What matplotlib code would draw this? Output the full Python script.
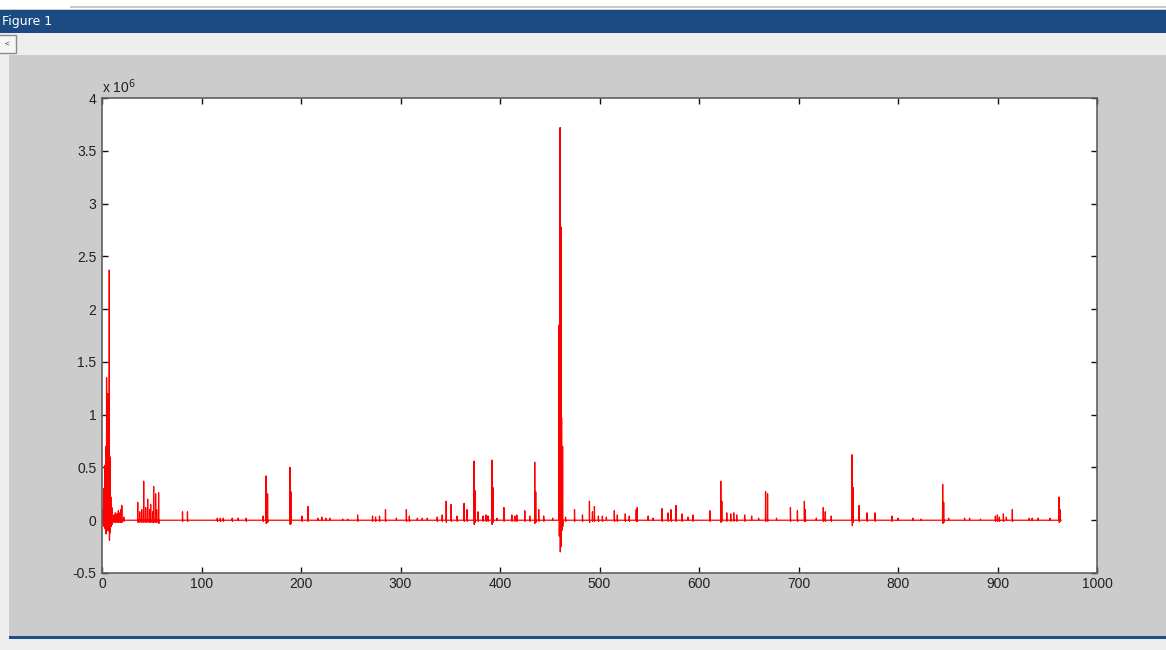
import numpy as np
import matplotlib
matplotlib.use("Agg")
import matplotlib.pyplot as plt
from matplotlib.patches import Rectangle
from matplotlib.ticker import FuncFormatter

# spikes: position, peak and trough (units of 1e6)
spike_x = [1, 2, 3, 4, 4.7, 5.5, 6.2, 6.8, 7.4, 8.2, 9, 10, 12, 13.5, 15, 16.5, 18, 19, 20, 22,
           36, 38, 40, 42, 44, 46, 48, 49, 51, 52, 54, 55, 57, 81, 86,
           116, 119, 122, 131, 137, 145, 162, 165, 166.5, 189, 190, 201, 207, 217, 221, 225, 229,
           242, 247, 257, 272, 275, 279, 285, 296, 306, 309, 317, 322, 327, 337, 342, 346, 351,
           357, 364, 367, 374, 375, 378, 383, 386, 388, 392, 393, 397, 404, 412, 415, 417, 425,
           430, 435, 436, 439, 444, 453, 459.5, 460.5, 461.3, 462, 463, 466, 475, 483, 490, 493,
           495, 499, 503, 507, 515, 518, 526, 530, 537, 538, 549, 554, 563, 569, 572, 577, 583,
           589, 594, 611, 622, 623, 628, 632, 635, 638, 646, 653, 660, 667, 669, 678, 692, 699,
           706, 707, 718, 725, 727, 733, 754, 755, 761, 769, 777, 794, 800, 815, 823, 845, 846,
           851, 867, 872, 883, 898, 900, 902, 906, 909, 915, 932, 935, 941, 953, 962, 963]
spike_peak = [0.10, 0.30, 0.52, 0.70, 1.35, 0.76, 1.20, 0.45, 2.37, 0.60, 0.22, 0.12, 0.05, 0.07,
              0.06, 0.09, 0.07, 0.10, 0.14, 0.03,
              0.17, 0.08, 0.10, 0.37, 0.12, 0.20, 0.10, 0.15, 0.08, 0.32, 0.25, 0.10, 0.26, 0.08, 0.08,
              0.02, 0.02, 0.02, 0.02, 0.02, 0.02, 0.04, 0.42, 0.25, 0.50, 0.27, 0.04, 0.13, 0.02, 0.03,
              0.02, 0.02,
              0.01, 0.01, 0.05, 0.04, 0.03, 0.04, 0.10, 0.02, 0.10, 0.04, 0.02, 0.02, 0.02, 0.03, 0.05,
              0.18, 0.15,
              0.04, 0.16, 0.10, 0.56, 0.28, 0.08, 0.04, 0.05, 0.04, 0.57, 0.31, 0.02, 0.12, 0.05, 0.04,
              0.05, 0.09,
              0.04, 0.55, 0.27, 0.10, 0.04, 0.02, 1.85, 3.72, 2.78, 0.97, 0.70, 0.03, 0.10, 0.05, 0.18,
              0.08,
              0.13, 0.04, 0.04, 0.03, 0.09, 0.05, 0.06, 0.04, 0.10, 0.12, 0.04, 0.02, 0.11, 0.07, 0.10,
              0.14, 0.06,
              0.03, 0.05, 0.09, 0.37, 0.18, 0.07, 0.06, 0.07, 0.05, 0.05, 0.04, 0.02, 0.27, 0.25, 0.02,
              0.12, 0.09,
              0.18, 0.10, 0.02, 0.12, 0.08, 0.04, 0.62, 0.31, 0.14, 0.07, 0.07, 0.04, 0.02, 0.02, 0.01,
              0.34, 0.17,
              0.02, 0.02, 0.02, 0.01, 0.04, 0.05, 0.03, 0.06, 0.03, 0.10, 0.02, 0.02, 0.02, 0.02, 0.22,
              0.10]
spike_trough = [-0.04, -0.06, -0.08, -0.13, -0.05, -0.10, -0.08, -0.10, -0.19, -0.12, -0.06, -0.04,
                -0.02, -0.02, -0.02, -0.02, -0.02, -0.02, -0.02, -0.01,
                -0.02, -0.02, -0.02, -0.02, -0.02, -0.02, -0.02, -0.02, -0.02, -0.02, -0.02, -0.02,
                -0.03, -0.01, -0.01,
                -0.01, -0.01, -0.01, -0.01, 0, -0.01, -0.01, -0.03, -0.02, -0.04, -0.03, -0.01, -0.01,
                0, 0, 0, 0,
                0, 0, -0.01, -0.01, -0.01, -0.01, -0.01, 0, -0.01, -0.01, 0, 0, 0, -0.01, -0.01,
                -0.02, -0.01,
                -0.01, -0.01, -0.01, -0.04, -0.02, -0.01, -0.01, -0.01, -0.01, -0.04, -0.02, 0, -0.01,
                -0.01, -0.01, -0.01, -0.01,
                -0.01, -0.03, -0.02, -0.01, -0.01, 0, -0.15, -0.30, -0.25, -0.10, -0.06, -0.01, -0.01,
                -0.01, -0.02, -0.01,
                -0.01, -0.01, -0.01, 0, -0.01, -0.01, -0.01, -0.01, -0.01, -0.01, 0, 0, -0.01, -0.01,
                -0.01, -0.01, -0.01,
                0, -0.01, -0.01, -0.02, -0.01, -0.01, -0.01, -0.01, -0.01, -0.01, 0, 0, -0.01, -0.01,
                0, -0.01, -0.01,
                -0.01, -0.01, 0, -0.01, -0.01, -0.01, -0.05, -0.02, -0.01, -0.01, -0.01, -0.01, 0, 0,
                0, -0.03, -0.02,
                0, 0, 0, 0, -0.01, -0.01, -0.01, -0.01, 0, -0.01, 0, 0, 0, 0, -0.02, -0.01]
series_start = 1
series_end = 964
scale = 1e6

xticks = [0, 100, 200, 300, 400, 500, 600, 700, 800, 900, 1000]
yticks = [-0.5, 0, 0.5, 1, 1.5, 2, 2.5, 3, 3.5, 4]

W, H = 1166, 650


def box(x0, y0, x1, y1):
    # pixel box (top-left origin) -> figure fraction
    return (x0 / W, 1 - y1 / H), (x1 - x0) / W, (y1 - y0) / H


# line through every spike: baseline, up to peak, down to trough, back to baseline
xs, ys = [series_start], [0.0]
for x, p, t in zip(spike_x, spike_peak, spike_trough):
    xs += [x - 0.25, x - 0.1, x + 0.1, x + 0.25]
    ys += [0.0, p, t, 0.0]
xs.append(series_end)
ys.append(0.0)
xs = np.array(xs)
ys = np.array(ys) * scale

plt.rcParams['font.family'] = ['Liberation Sans', 'DejaVu Sans']
fig = plt.figure(figsize=(W / 100, H / 100), dpi=100, facecolor='#cccccc')

# window chrome
for (x0, y0, x1, y1, fc) in [(0, 0, W, 9, '#ffffff'), (70, 6, W, 8, '#c8c8c8'),
                              (0, 10, W, 33, '#1c4b84'), (0, 33, W, 55, '#eeeeee'),
                              (0, 55, 9, H, '#eeeeee'), (9, 636, W, 639, '#1f4e8a'),
                              (9, 639, W, H, '#eeeeee')]:
    xy, w, h = box(x0, y0, x1, y1)
    fig.add_artist(Rectangle(xy, w, h, transform=fig.transFigure, facecolor=fc,
                             edgecolor='none', zorder=0))
xy, w, h = box(-3, 35, 16, 53)
fig.add_artist(Rectangle(xy, w, h, transform=fig.transFigure, facecolor='#f6f6f6',
                         edgecolor='#8a8a8a', lw=1, zorder=1))
fig.text(7 / W, 1 - 44 / H, '<', fontsize=6, va='center', ha='center', color='#333333')
fig.text(2 / W, 1 - 21 / H, 'Figure 1', fontsize=9, color='white', va='center', ha='left',
         family=['DejaVu Sans'])

ax = fig.add_axes([102 / W, 1 - 573 / H, (1097 - 102) / W, (573 - 98) / H])
ax.set_facecolor('white')
ax.plot(xs, ys, color='#ff0000', lw=0.9)

ax.set_xlim(0, 1000)
ax.set_ylim(-0.5 * scale, 4 * scale)
ax.set_xticks(xticks)
ax.set_yticks([v * scale for v in yticks])
ax.yaxis.set_major_formatter(FuncFormatter(lambda v, pos: '%g' % (v / scale)))
ax.tick_params(direction='in', length=4, width=1, top=True, right=True, labelsize=10,
               labelcolor='#222222', color='#111111')
ax.tick_params(axis='x', pad=3)
ax.tick_params(axis='y', pad=4)
for s in ax.spines.values():
    s.set_color('#606060')
    s.set_linewidth(1.2)
ax.text(0, 1.004, r'x 10$^6$', transform=ax.transAxes, fontsize=10, color='#222222',
        ha='left', va='bottom')

fig.savefig('out.png', dpi=100, facecolor=fig.get_facecolor())
